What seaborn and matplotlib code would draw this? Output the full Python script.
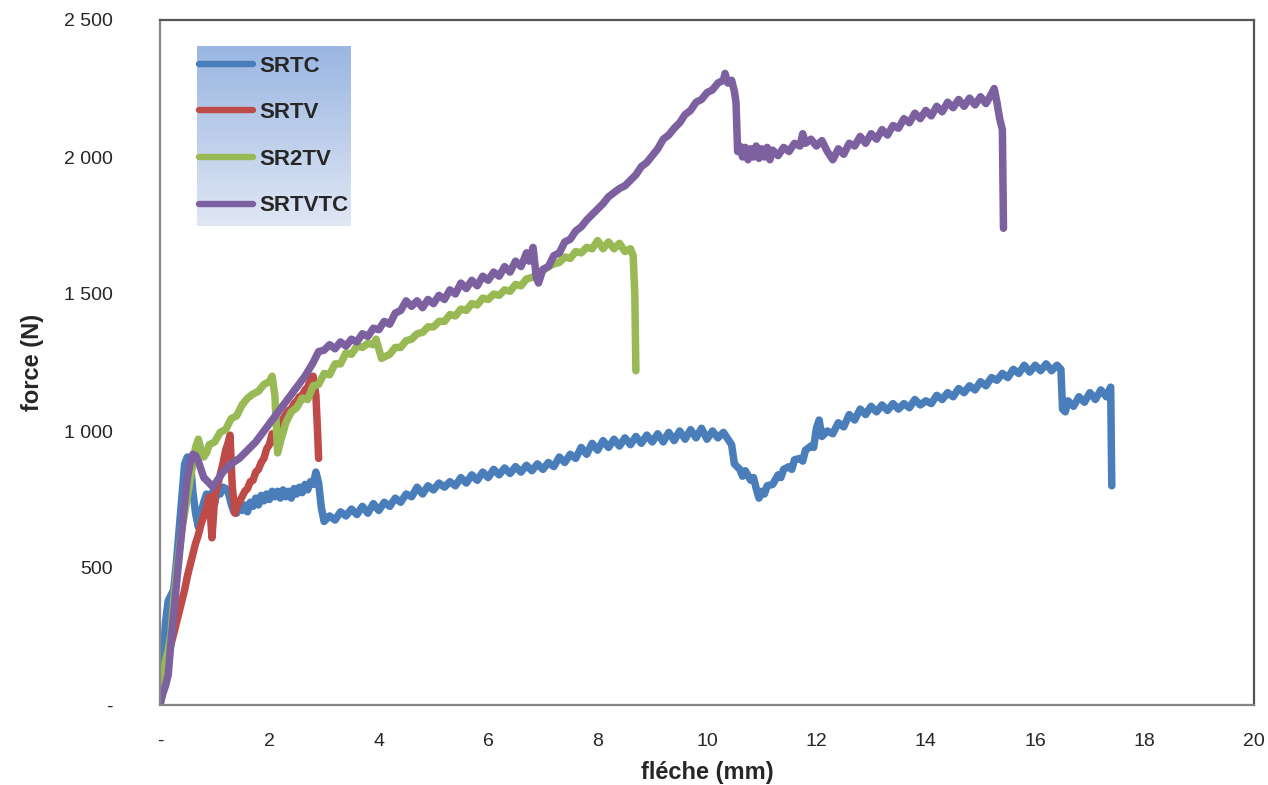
import numpy as np
import pandas as pd
import matplotlib
matplotlib.use("Agg")
import matplotlib.pyplot as plt
import seaborn as sns
from matplotlib.lines import Line2D

# ---------------- data ----------------
series_names = ["SRTC", "SRTV", "SR2TV", "SRTVTC"]

srtc_x = [0, 0.05, 0.1, 0.15, 0.2, 0.25, 0.3, 0.35, 0.4, 0.45, 0.5, 0.55, 0.6, 0.65, 0.7, 0.75,
          0.8, 0.85, 0.9, 0.95, 1.0, 1.05, 1.1, 1.15, 1.2, 1.25, 1.3, 1.35, 1.4, 1.45, 1.5, 1.55,
          1.6, 1.65, 1.7, 1.75, 1.8, 1.85, 1.9, 1.95, 2.0, 2.05, 2.1, 2.15, 2.2, 2.25, 2.3, 2.35,
          2.4, 2.45, 2.5, 2.55, 2.6, 2.65, 2.7, 2.75, 2.8, 2.85, 2.9, 2.95,
          3.0, 3.1, 3.2, 3.3, 3.4, 3.5, 3.6, 3.7, 3.8, 3.9, 4.0, 4.1, 4.2, 4.3, 4.4, 4.5, 4.6,
          4.7, 4.8, 4.9, 5.0, 5.1, 5.2, 5.3, 5.4, 5.5, 5.6, 5.7, 5.8, 5.9, 6.0, 6.1, 6.2, 6.3,
          6.4, 6.5, 6.6, 6.7, 6.8, 6.9, 7.0, 7.1, 7.2, 7.3, 7.4, 7.5, 7.6, 7.7, 7.8, 7.9, 8.0,
          8.1, 8.2, 8.3, 8.4, 8.5, 8.6, 8.7, 8.8, 8.9, 9.0, 9.1, 9.2, 9.3, 9.4, 9.5, 9.6, 9.7,
          9.8, 9.9, 10.0, 10.1, 10.2, 10.3, 10.4, 10.45, 10.5, 10.6, 10.65, 10.7, 10.8, 10.85,
          10.9, 10.95, 11.0, 11.05, 11.1, 11.2, 11.3, 11.35, 11.4, 11.5, 11.55, 11.6, 11.7, 11.75,
          11.8, 11.9, 11.95, 12.0, 12.05, 12.1, 12.2, 12.3, 12.4, 12.5, 12.6, 12.7, 12.8, 12.9,
          13.0, 13.1, 13.2, 13.3, 13.4, 13.5, 13.6, 13.7, 13.8, 13.9, 14.0, 14.1, 14.2, 14.3,
          14.4, 14.5, 14.6, 14.7, 14.8, 14.9, 15.0, 15.1, 15.2, 15.3, 15.4, 15.5, 15.6, 15.7,
          15.8, 15.9, 16.0, 16.1, 16.2, 16.3, 16.4, 16.47, 16.5, 16.55, 16.6, 16.7, 16.8, 16.9,
          17.0, 17.1, 17.2, 17.3, 17.38, 17.4]
srtc_y = [0, 150, 300, 380, 400, 420, 520, 640, 760, 880, 905, 900, 780, 700, 650, 700,
          740, 770, 750, 775, 735, 790, 770, 795, 790, 775, 735, 705, 700, 725, 710, 730,
          705, 740, 725, 755, 730, 765, 745, 770, 750, 780, 760, 780, 755, 785, 760, 780,
          755, 790, 770, 795, 775, 805, 785, 815, 805, 850, 810, 720,
          670, 690, 675, 705, 690, 715, 695, 725, 700, 735, 710, 740, 725, 755, 740, 770, 760,
          795, 770, 800, 785, 810, 795, 815, 800, 830, 810, 840, 820, 850, 830, 860, 840, 865,
          845, 870, 850, 875, 855, 880, 860, 885, 870, 905, 885, 915, 900, 940, 915, 955, 930,
          965, 940, 970, 945, 975, 950, 980, 955, 985, 960, 990, 960, 995, 965, 1000, 970, 1005,
          975, 1010, 970, 1000, 975, 995, 965, 950, 880, 860, 835, 855, 820, 830,
          790, 755, 780, 770, 800, 805, 840, 830, 860, 870, 860, 895, 900, 890,
          930, 945, 940, 1010, 1040, 980, 1000, 990, 1030, 1015, 1060, 1040, 1080, 1060,
          1090, 1070, 1095, 1075, 1100, 1080, 1100, 1085, 1115, 1095, 1110, 1100, 1130, 1115,
          1140, 1125, 1155, 1140, 1165, 1150, 1180, 1165, 1195, 1185, 1210, 1195, 1225, 1210,
          1240, 1215, 1240, 1220, 1245, 1220, 1240, 1225, 1080, 1070, 1110, 1090, 1125, 1105,
          1140, 1115, 1150, 1125, 1160, 800]

srtv_x = [0, 0.05, 0.1, 0.15, 0.2, 0.25, 0.3, 0.35, 0.4, 0.45, 0.5, 0.55, 0.6, 0.65, 0.7, 0.75,
          0.8, 0.85, 0.9, 0.95, 1.0, 1.05, 1.1, 1.15, 1.2, 1.25, 1.28, 1.32, 1.37, 1.42, 1.5,
          1.55, 1.6, 1.65, 1.7, 1.75, 1.8, 1.85, 1.9, 1.95, 2.0, 2.05, 2.1, 2.15, 2.2, 2.25,
          2.3, 2.35, 2.4, 2.45, 2.5, 2.55, 2.6, 2.65, 2.7, 2.75, 2.8, 2.85, 2.88, 2.9]
srtv_y = [0, 60, 130, 190, 220, 260, 300, 340, 380, 420, 470, 510, 550, 590, 620, 660,
          690, 720, 760, 610, 760, 800, 840, 880, 930, 960, 985, 800, 700, 730, 760,
          780, 790, 815, 820, 850, 860, 885, 900, 935, 950, 990, 960, 1010, 1030, 1045,
          1060, 1075, 1080, 1100, 1110, 1125, 1130, 1150, 1160, 1185, 1200, 1130, 1000, 900]

sr2tv_x = [0, 0.05, 0.1, 0.15, 0.2, 0.25, 0.3, 0.35, 0.4, 0.45, 0.5, 0.55, 0.6, 0.65, 0.7,
           0.75, 0.8, 0.85, 0.9, 1.0, 1.1, 1.2, 1.3, 1.4, 1.5, 1.6, 1.7, 1.8, 1.9, 2.0, 2.05,
           2.1, 2.15, 2.2, 2.3, 2.4, 2.5, 2.6, 2.7, 2.8, 2.9, 3.0, 3.1, 3.2, 3.3, 3.4, 3.5, 3.6,
           3.7, 3.8, 3.9, 3.95, 4.0, 4.05, 4.1, 4.2, 4.3, 4.4, 4.5, 4.6, 4.7, 4.8, 4.9, 5.0,
           5.1, 5.2, 5.3, 5.4, 5.5, 5.6, 5.7, 5.8, 5.9, 6.0, 6.1, 6.2, 6.3, 6.4, 6.5, 6.6, 6.7,
           6.8, 6.9, 7.0, 7.1, 7.2, 7.3, 7.4, 7.5, 7.6, 7.7, 7.8, 7.9, 8.0, 8.1, 8.2, 8.3, 8.4,
           8.5, 8.6, 8.65, 8.68, 8.7]
sr2tv_y = [0, 100, 160, 200, 260, 380, 480, 560, 640, 700, 760, 820, 880, 940, 970,
           930, 905, 920, 950, 960, 995, 1005, 1045, 1055, 1095, 1120, 1135, 1145, 1170, 1180, 1200,
           1130, 920, 960, 1030, 1070, 1085, 1120, 1115, 1165, 1170, 1210, 1205, 1245, 1245, 1285,
           1280, 1310, 1305, 1320, 1315, 1335, 1300, 1265, 1270, 1280, 1305, 1305, 1330, 1335,
           1355, 1360, 1380, 1380, 1400, 1400, 1425, 1420, 1445, 1440, 1465, 1460, 1485, 1480,
           1500, 1495, 1515, 1510, 1535, 1530, 1555, 1560, 1575, 1585, 1600, 1610, 1615, 1635,
           1630, 1655, 1650, 1670, 1665, 1695, 1665, 1690, 1665, 1685, 1655, 1665, 1640, 1500, 1220]

srtvtc_x = [0, 0.05, 0.1, 0.15, 0.2, 0.25, 0.3, 0.35, 0.4, 0.45, 0.5, 0.55, 0.6, 0.65, 0.7,
            0.75, 0.8, 0.9, 0.97, 1.05, 1.15, 1.3, 1.45, 1.6, 1.75, 1.9, 2.05, 2.2, 2.35, 2.5,
            2.65, 2.8, 2.9, 3.0, 3.1, 3.2, 3.3, 3.4, 3.5, 3.6, 3.7, 3.8, 3.9, 4.0, 4.1, 4.2,
            4.3, 4.4, 4.5, 4.6, 4.7, 4.8, 4.9, 5.0, 5.1, 5.2, 5.3, 5.4, 5.5, 5.6, 5.7, 5.8, 5.9,
            6.0, 6.1, 6.2, 6.3, 6.4, 6.5, 6.6, 6.7, 6.75, 6.82, 6.88, 6.92, 7.0, 7.1, 7.2, 7.3,
            7.4, 7.5, 7.6, 7.7, 7.8, 7.9, 8.0, 8.1, 8.2, 8.3, 8.4, 8.5, 8.6, 8.7, 8.8, 8.9,
            9.0, 9.1, 9.2, 9.3, 9.4, 9.5, 9.6, 9.7, 9.8, 9.9, 10.0, 10.1, 10.2, 10.3, 10.33,
            10.38, 10.45, 10.5, 10.53, 10.56, 10.6, 10.65, 10.7, 10.75, 10.8, 10.85, 10.9, 10.95,
            11.0, 11.05, 11.1, 11.15, 11.2, 11.3, 11.4, 11.5, 11.6, 11.7, 11.75, 11.8, 11.9,
            12.0, 12.1, 12.2, 12.3, 12.4, 12.5, 12.6, 12.7, 12.8, 12.9, 13.0, 13.1, 13.2, 13.3,
            13.4, 13.5, 13.6, 13.7, 13.8, 13.9, 14.0, 14.1, 14.2, 14.3, 14.4, 14.5, 14.6, 14.7,
            14.8, 14.9, 15.0, 15.1, 15.2, 15.25, 15.3, 15.35, 15.4, 15.42]
srtvtc_y = [0, 40, 70, 110, 230, 330, 440, 540, 640, 740, 830, 880, 915, 910, 890,
            860, 830, 810, 795, 820, 850, 880, 900, 930, 960, 1000, 1040, 1080, 1120, 1160,
            1200, 1250, 1290, 1295, 1315, 1300, 1325, 1310, 1335, 1325, 1355, 1345, 1375, 1370,
            1400, 1390, 1430, 1440, 1475, 1455, 1475, 1450, 1480, 1465, 1495, 1480, 1515, 1500,
            1540, 1520, 1550, 1530, 1565, 1550, 1580, 1565, 1600, 1580, 1620, 1600, 1650, 1620,
            1670, 1560, 1540, 1590, 1600, 1640, 1650, 1690, 1700, 1730, 1745, 1770, 1790, 1810,
            1830, 1855, 1870, 1885, 1895, 1915, 1935, 1965, 1980, 2005, 2030, 2065, 2080, 2105,
            2125, 2155, 2170, 2200, 2210, 2235, 2245, 2270, 2280, 2305, 2270, 2280, 2240, 2200,
            2020, 2040, 2000, 2035, 1990, 2030, 2000, 2040, 1995, 2030, 2000, 2035, 1990, 2025,
            2005, 2035, 2020, 2050, 2040, 2085, 2050, 2065, 2040, 2060, 2020, 1990, 2030, 2010,
            2050, 2040, 2075, 2050, 2085, 2065, 2100, 2080, 2115, 2105, 2140, 2125, 2160, 2140,
            2170, 2150, 2185, 2165, 2200, 2180, 2210, 2185, 2215, 2190, 2220, 2195, 2230, 2250,
            2200, 2140, 2100, 1740]

x_ticks = [0, 2, 4, 6, 8, 10, 12, 14, 16, 18, 20]
x_tick_labels = ["-", "2", "4", "6", "8", "10", "12", "14", "16", "18", "20"]
y_ticks = [0, 500, 1000, 1500, 2000, 2500]
y_tick_labels = ["-", "500", "1 000", "1 500", "2 000", "2 500"]

colors = {"SRTC": "#4a7ebb", "SRTV": "#be4b48", "SR2TV": "#98b954", "SRTVTC": "#7d60a0"}

# ---------------- build table ----------------
frames = []
for name, xs, ys in zip(series_names,
                        [srtc_x, srtv_x, sr2tv_x, srtvtc_x],
                        [srtc_y, srtv_y, sr2tv_y, srtvtc_y]):
    frames.append(pd.DataFrame({"x": xs, "y": ys, "serie": name}))
df = pd.concat(frames, ignore_index=True)

# ---------------- figure ----------------
sns.set_style("white")
plt.rcParams["font.family"] = ["Liberation Sans Narrow", "Liberation Sans", "DejaVu Sans"]

fig = plt.figure(figsize=(12.68, 7.85), dpi=100)
ax = fig.add_axes([160 / 1268, 80 / 785, (1254 - 160) / 1268, (705 - 20) / 785])

sns.lineplot(data=df, x="x", y="y", hue="serie", hue_order=series_names,
             palette=colors, sort=False, estimator=None, units="serie",
             linewidth=5.4, legend=False, ax=ax,
             solid_capstyle="round", solid_joinstyle="round")

ax.set_xlim(0, 20)
ax.set_ylim(0, 2500)
ax.set_xticks(x_ticks)
ax.set_xticklabels(x_tick_labels, fontsize=14)
ax.set_yticks(y_ticks)
ax.set_yticklabels(y_tick_labels, fontsize=14)
ax.tick_params(axis="x", length=0, pad=20)
ax.tick_params(axis="y", length=0, pad=34)
for s in ax.spines.values():
    s.set_color("#868686")
    s.set_linewidth(1.6)
ax.spines["top"].set_color("#555555")
ax.spines["right"].set_color("#555555")
ax.grid(False)

ax.set_xlabel("fléche (mm)", fontsize=17, fontweight="bold", labelpad=8)
ax.set_ylabel("force (N)", fontsize=17, fontweight="bold", labelpad=14)

# legend with gradient background
lax = fig.add_axes([197 / 1268, (785 - 226) / 785, (351 - 197) / 1268, 180 / 785])
top_c = np.array(matplotlib.colors.to_rgb("#9ab6e2"))
bot_c = np.array(matplotlib.colors.to_rgb("#e0e7f4"))
t = np.linspace(0, 1, 256)[:, None]
grad = top_c[None, None, :] * (1 - t[:, :, None]) + bot_c[None, None, :] * t[:, :, None]
lax.imshow(grad, aspect="auto", extent=[0, 1, 0, 1], origin="upper")
lax.set_axis_off()
handles = [Line2D([0], [0], color=colors[n], lw=4.6) for n in series_names]
leg = lax.legend(handles, series_names, loc="center", frameon=False,
                 fontsize=16, handlelength=2.4, handletextpad=0.3, labelspacing=1.15,
                 borderaxespad=0)
for txt in leg.get_texts():
    txt.set_fontweight("bold")
    txt.set_color("#262626")

fig.savefig("out.png", dpi=100)
